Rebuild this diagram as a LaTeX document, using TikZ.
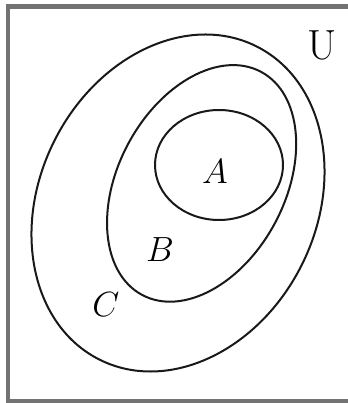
\documentclass[tikz,border=0pt]{standalone}
\usepackage{amsmath,amssymb}
\usepackage{xcolor}
\usepackage{tikz}
\usetikzlibrary{positioning}

\begin{document}
\begin{tikzpicture}[
  frm/.style={draw=black!55, line width=0.11cm},
  set/.style={draw=black!90, line width=0.05cm},
  lab/.style={font=\fontsize{30}{34}\selectfont, inner sep=0pt}]

\clip (0,0) rectangle (8.7,10.075);

% ---- the universe -------------------------------------------------------
\draw[frm] (0.2,0.05) rectangle (9.5,9.9125);
\node[lab] (U) at (8.05,8.95) {U};

% ---- the nested sets ----------------------------------------------------
\draw[set, rotate around={63.4:(4.45,5.0)}] (4.45,5.0) ellipse (4.38 and 3.46);
\draw[set, rotate around={62:(5.04,5.49)}] (5.04,5.49) ellipse (3.16 and 2.085);
\draw[set] (5.475,5.95) ellipse (1.6 and 1.375);

\node[lab] (A) at (5.375,5.775) {$A$};
\node[lab] (B) at (4.0,3.825) {$B$};
\node[lab] (C) at (2.65,2.45) {$C$};

\end{tikzpicture}
\end{document}
